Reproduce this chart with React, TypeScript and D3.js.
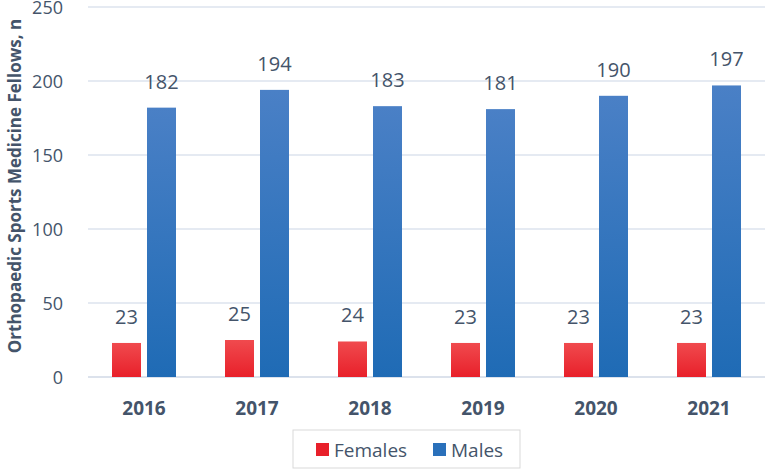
import { useEffect, useRef } from 'react';
import * as d3 from 'd3';

const years = ['2016', '2017', '2018', '2019', '2020', '2021'];
const females = [23, 25, 24, 23, 23, 23];
const males = [182, 194, 183, 181, 190, 197];
const yTicks = [0, 50, 100, 150, 200, 250];
const seriesNames = ['Females', 'Males'];

export default function App() {
  const ref = useRef<SVGSVGElement>(null);

  useEffect(() => {
    if (!ref.current) return;
    const svg = d3.select(ref.current);
    svg.selectAll('*').remove();

    const W = 765;
    const left = 88, right = 766, top = 7, bottom = 377;
    const font = "'Open Sans', sans-serif";
    const textColor = '#44546A';

    // dégradés pour les barres
    const defs = svg.append('defs');
    const grad = (id: string, c1: string, c2: string) => {
      const g = defs.append('linearGradient').attr('id', id)
        .attr('x1', 0).attr('y1', 0).attr('x2', 0).attr('y2', 1);
      g.append('stop').attr('offset', '0%').attr('stop-color', c1);
      g.append('stop').attr('offset', '100%').attr('stop-color', c2);
    };
    grad('gRed', '#F04A4E', '#E8202A');
    grad('gBlue', '#4A80C6', '#1F6BB5');

    const x = d3.scaleBand().domain(years).range([left, right]);
    const y = d3.scaleLinear().domain([0, 250]).range([bottom, top]);

    // grille
    svg.append('g').selectAll('line').data(yTicks).enter().append('line')
      .attr('x1', left).attr('x2', W)
      .attr('y1', d => y(d)).attr('y2', d => y(d))
      .attr('stroke', d => d === 0 ? '#D0D8E6' : '#DDE3EE')
      .attr('stroke-width', 1.5);

    // étiquettes de l'axe Y
    svg.append('g').selectAll('text').data(yTicks).enter().append('text')
      .attr('x', 63).attr('y', d => y(d) + 7)
      .attr('text-anchor', 'end')
      .style('font-family', font).style('font-size', '18px').style('fill', textColor)
      .text(d => d);

    const barW = 29, gap = 6, offset = 24;
    const series = [
      { name: seriesNames[0], values: females, fill: 'url(#gRed)', sw: '#E8202A' },
      { name: seriesNames[1], values: males, fill: 'url(#gBlue)', sw: '#2A70BA' },
    ];

    series.forEach((s, i) => {
      const bx = (yr: string) => (x(yr) as number) + offset + i * (barW + gap);
      svg.append('g').selectAll('rect').data(years).enter().append('rect')
        .attr('x', d => bx(d))
        .attr('y', (d, j) => y(s.values[j]))
        .attr('width', barW)
        .attr('height', (d, j) => bottom - y(s.values[j]))
        .attr('fill', s.fill);
      svg.append('g').selectAll('text').data(years).enter().append('text')
        .attr('x', d => bx(d) + barW / 2)
        .attr('y', (d, j) => y(s.values[j]) - 19)
        .attr('text-anchor', 'middle')
        .style('font-family', font).style('font-size', '20px').style('fill', textColor)
        .text((d, j) => s.values[j]);
    });

    // étiquettes de l'axe X
    svg.append('g').selectAll('text').data(years).enter().append('text')
      .attr('x', d => (x(d) as number) + offset + barW + gap / 2)
      .attr('y', 415)
      .attr('text-anchor', 'middle')
      .style('font-family', font).style('font-size', '19px').style('font-weight', 'bold')
      .style('fill', textColor)
      .text(d => d);

    // titre de l'axe Y
    svg.append('text')
      .attr('transform', `translate(21,186) rotate(-90)`)
      .attr('text-anchor', 'middle')
      .style('font-family', font).style('font-size', '17px').style('font-weight', 'bold')
      .style('fill', textColor)
      .text('Orthopaedic Sports Medicine Fellows, n');

    // légende
    const lg = svg.append('g');
    lg.append('rect').attr('x', 293).attr('y', 430).attr('width', 227).attr('height', 38)
      .attr('fill', 'white').attr('stroke', '#D9D9D9');
    const legX = [316, 433];
    series.forEach((s, i) => {
      lg.append('rect').attr('x', legX[i]).attr('y', 443).attr('width', 13).attr('height', 13)
        .attr('fill', s.sw);
      lg.append('text').attr('x', legX[i] + 18).attr('y', 457)
        .style('font-family', font).style('font-size', '19px').style('fill', textColor)
        .text(s.name);
    });
  }, []);

  return (
    <svg ref={ref} width={765} height={470}
      style={{ position: 'absolute', left: 0, top: 0, background: 'white' }} />
  );
}
